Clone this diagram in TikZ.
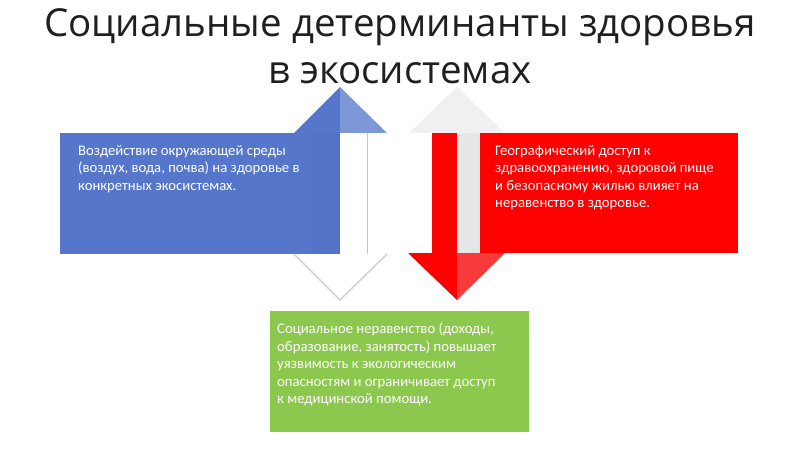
\documentclass[tikz,border=0pt]{standalone}
\usepackage{fontspec}
\setmainfont{Carlito}
\newfontfamily\titlefont{Open Sans}
\definecolor{myblue}{HTML}{5676CB}
\definecolor{bluelight}{HTML}{7E97D6}
\definecolor{myred}{HTML}{FF0000}
\definecolor{redlight}{HTML}{F83A3A}
\definecolor{mygreen}{HTML}{8CC84E}
\definecolor{shaftgray}{HTML}{E6E6E6}
\definecolor{headgray}{HTML}{F0F0F0}
\tikzset{
  panel/.style={draw=none, inner sep=0pt, anchor=north west},
  bodytext/.style={inner sep=0pt, anchor=north west, align=left, text=white,
    font=\fontsize{14.7}{17.5}\selectfont},
  titletext/.style={inner sep=0pt, anchor=base, text=black!88,
    font=\titlefont\fontsize{38.5}{46}\selectfont},
  edgeline/.style={draw=gray!35, line width=1.6pt}
}
\begin{document}
\begin{tikzpicture}[x=1pt,y=-1pt]
\useasboundingbox (0,0) rectangle (800,449);
\fill[white] (0,0) rectangle (800,449);

% title
\node[titletext] (t1) at (400,36.7) {Социальные детерминанты здоровья};
\node[titletext] (t2) at (400,83.3) {в экосистемах};

% left double arrow (centre x = 340)
\fill[myblue] (294,133) -- (340,87) -- (340,133) -- cycle;
\fill[bluelight] (340,87) -- (387,133) -- (340,133) -- cycle;
\node[panel, fill=myblue, minimum width=280pt, minimum height=121pt] (blue) at (60,133) {};
\fill[myblue!85!black, opacity=0.15] (313,133) rectangle (340,254);
\draw[gray!45] (367,133) -- (367,254);
\coordinate (lbl) at (294,254);
\coordinate (lbt) at (340,300);
\coordinate (lbr) at (387,254);
\fill[white] (lbl) -- (lbt) -- (lbr) -- cycle;
\draw[edgeline] (lbl) -- (lbt) -- (lbr);

% right double arrow (centre x = 457)
\fill[headgray] (409,133) -- (457,87) -- (505,133) -- cycle;
\node[panel, fill=myred, minimum width=258pt, minimum height=120pt] (red) at (480,133) {};
\fill[myred] (432,133) rectangle (457,253);
\fill[shaftgray] (457,133) rectangle (480,253);
\fill[myred] (408,253) -- (457,300) -- (457,253) -- cycle;
\fill[redlight] (457,253) -- (457,300) -- (505,253) -- cycle;

% green panel
\node[panel, fill=mygreen, minimum width=259pt, minimum height=121pt] (green) at (270,311) {};

% texts
\node[bodytext] (bt) at (78,145) {Воздействие окружающей среды\\(воздух, вода, почва) на здоровье в\\конкретных экосистемах.};
\node[bodytext] (rt) at (495,145) {Географический доступ к\\здравоохранению, здоровой пище\\и безопасному жилью влияет на\\неравенство в здоровье.};
\node[bodytext] (gt) at (277,323) {Социальное неравенство (доходы,\\образование, занятость) повышает\\уязвимость к экологическим\\опасностям и ограничивает доступ\\к медицинской помощи.};
\end{tikzpicture}
\end{document}
